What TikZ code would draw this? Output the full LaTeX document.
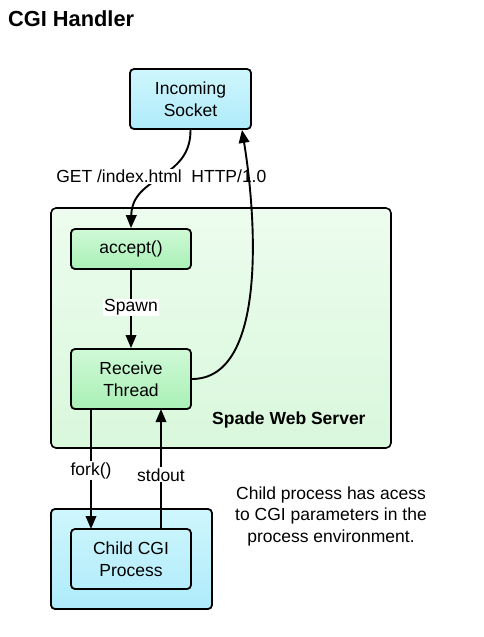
\documentclass[tikz,border=0pt]{standalone}
\usepackage{fontspec}
\setmainfont{Liberation Sans}
\usetikzlibrary{arrows.meta}
\definecolor{cyanA}{HTML}{CFF6FD}
\definecolor{cyanB}{HTML}{AEEBFA}
\definecolor{greenA}{HTML}{CFF9D6}
\definecolor{greenB}{HTML}{A9F0B6}
\definecolor{contA}{HTML}{EDFCEE}
\definecolor{contB}{HTML}{D9F8DC}
\tikzset{
  base/.style={draw=black, line width=1.8pt, rounded corners=4pt, inner sep=0pt, align=center,
    font=\fontsize{17.5}{21.5}\selectfont},
  cyanbox/.style={base, top color=cyanA, bottom color=cyanB},
  greenbox/.style={base, top color=greenA, bottom color=greenB},
  container/.style={draw=black, line width=1.6pt, rounded corners=5pt, top color=contA, bottom color=contB},
  conn/.style={line width=1.9pt, -{Triangle[length=13pt,width=10.5pt]}},
  lbl/.style={font=\fontsize{17.5}{21.5}\selectfont, inner sep=1pt},
  wlbl/.style={lbl, fill=white},
}
\begin{document}
\begin{tikzpicture}[x=1pt,y=-1pt]
\useasboundingbox (0,0) rectangle (483,637);
\node[anchor=base west, font=\fontsize{21.8}{25}\selectfont\bfseries, inner sep=0pt] (title) at (8,27) {CGI Handler};

% containers
\draw[container] (51,208) rectangle (391,448);
\draw[cyanbox] (51,509) rectangle (212,609);

\node[cyanbox, minimum width=121pt, minimum height=60pt] (sock) at (190.5,99) {Incoming\\Socket};
\node[greenbox, minimum width=120pt, minimum height=40pt] (accept) at (131,249) {accept()};
\node[greenbox, minimum width=120pt, minimum height=60pt] (recv) at (131,379) {Receive\\Thread};
\node[base, fill=none, minimum width=120pt, minimum height=60pt] (child) at (131,559) {Child CGI\\Process};

\node[anchor=base west, font=\fontsize{17.5}{21.5}\selectfont\bfseries, inner sep=0pt] (srv) at (212,424) {Spade Web Server};

% curves
\draw[conn] (sock.south) .. controls (191,180) and (132,175) .. (accept.north)
  node[pos=0.5, wlbl, anchor=base, yshift=-5pt] (get) {GET /index.html\ \ HTTP/1.0};
\draw[conn] (recv.east) .. controls (268,379) and (256,215) .. (242,129.9);

\draw[conn] (accept.south) -- (recv.north) node[pos=0.48, wlbl] (spawn) {Spawn};

\coordinate (fa) at (91,409.1);
\coordinate (fb) at (91,529);
\coordinate (sa) at (161,529);
\coordinate (sb) at (161,409.1);
\draw[conn] (fa) -- (fb);
\draw[conn] (sa) -- (sb);
\node[wlbl, anchor=base] (fork) at (91,475) {fork()};
\node[wlbl, anchor=base] (stdout) at (161,481) {stdout};

\node[lbl, align=center, anchor=base] (note) at (331,542) {Child process has acess\\to CGI parameters in the\\process environment.};
\end{tikzpicture}
\end{document}
